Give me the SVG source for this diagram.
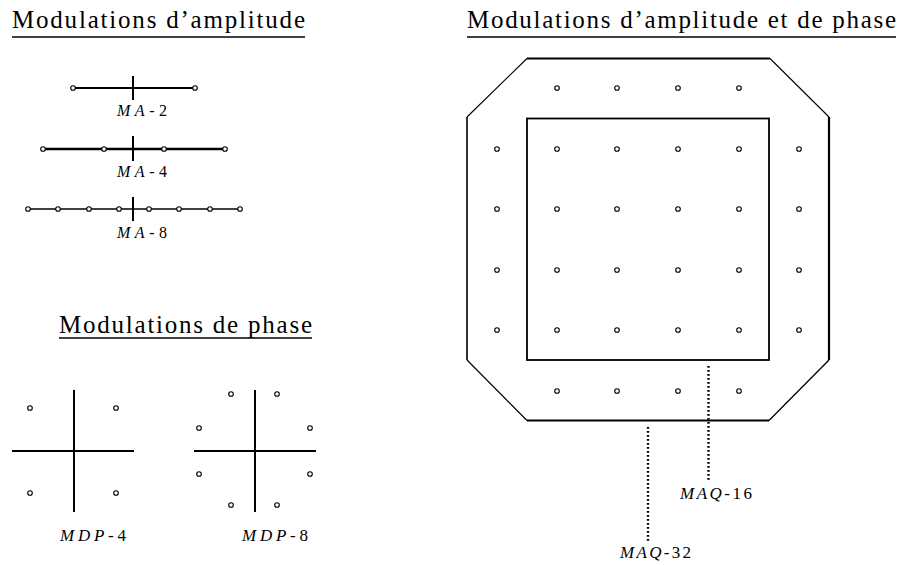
<svg xmlns="http://www.w3.org/2000/svg" width="903" height="565" viewBox="0 0 903 565">
<style>
.title{font-family:"Liberation Serif","DejaVu Serif",serif;font-size:25px;fill:#000}
.lab{font-family:"Liberation Serif","DejaVu Serif",serif;font-size:16px;fill:#000}
.lab2{font-family:"Liberation Serif","DejaVu Serif",serif;font-size:17px;fill:#000}
.it{font-style:italic}
.ul{stroke:#000;stroke-width:1.6}
.axis{stroke:#000;stroke-width:2;fill:none}
.pt{fill:#fff;stroke:#000;stroke-width:1.1}
.dot{stroke:#000;stroke-width:2.4;stroke-dasharray:1.8 2.2;fill:none}
</style>
<rect width="903" height="565" fill="#fff"/>

<g id="title-amplitude">
<text class="title" x="12" y="28" textLength="293" lengthAdjust="spacing">Modulations d’amplitude</text>
<line class="ul" x1="12" y1="37" x2="305" y2="37"/>
</g>

<g id="MA-2">
<line x1="73" y1="88" x2="195" y2="88" stroke="#000" stroke-width="1.8"/>
<line class="axis" x1="133" y1="76" x2="133" y2="100"/>
<circle class="pt" cx="73" cy="88" r="2.3"/>
<circle class="pt" cx="195" cy="88" r="2.3"/>
<text class="lab" x="117" y="116" textLength="50"><tspan class="it">MA</tspan>-2</text>
</g>

<g id="MA-4">
<line x1="43" y1="149" x2="225" y2="149" stroke="#000" stroke-width="2.4"/>
<line class="axis" x1="133" y1="136" x2="133" y2="161"/>
<circle class="pt" cx="43" cy="149" r="2.3"/>
<circle class="pt" cx="104" cy="149" r="2.3"/>
<circle class="pt" cx="164" cy="149" r="2.3"/>
<circle class="pt" cx="225" cy="149" r="2.3"/>
<text class="lab" x="117" y="177" textLength="50"><tspan class="it">MA</tspan>-4</text>
</g>

<g id="MA-8">
<line x1="28" y1="209" x2="240" y2="209" stroke="#000" stroke-width="1.6"/>
<line class="axis" x1="133" y1="197" x2="133" y2="221"/>
<circle class="pt" cx="28" cy="209" r="2.3"/>
<circle class="pt" cx="58" cy="209" r="2.3"/>
<circle class="pt" cx="89" cy="209" r="2.3"/>
<circle class="pt" cx="119" cy="209" r="2.3"/>
<circle class="pt" cx="149" cy="209" r="2.3"/>
<circle class="pt" cx="179" cy="209" r="2.3"/>
<circle class="pt" cx="210" cy="209" r="2.3"/>
<circle class="pt" cx="240" cy="209" r="2.3"/>
<text class="lab" x="117" y="238" textLength="50"><tspan class="it">MA</tspan>-8</text>
</g>

<g id="title-phase">
<text class="title" x="59" y="333" textLength="253" lengthAdjust="spacing">Modulations de phase</text>
<line class="ul" x1="59" y1="338" x2="312" y2="338"/>
</g>

<g id="MDP-4">
<line class="axis" x1="12" y1="451" x2="134" y2="451"/>
<line class="axis" x1="74" y1="390" x2="74" y2="512"/>
<circle class="pt" cx="30" cy="408" r="2.3"/>
<circle class="pt" cx="116" cy="408" r="2.3"/>
<circle class="pt" cx="30" cy="493" r="2.3"/>
<circle class="pt" cx="116" cy="493" r="2.3"/>
<text class="lab2" x="60" y="541" textLength="66"><tspan class="it">MDP</tspan>-4</text>
</g>

<g id="MDP-8">
<line class="axis" x1="194" y1="451" x2="316" y2="451"/>
<line class="axis" x1="255" y1="390" x2="255" y2="512"/>
<circle class="pt" cx="231" cy="394" r="2.3"/>
<circle class="pt" cx="277" cy="394" r="2.3"/>
<circle class="pt" cx="199" cy="428" r="2.3"/>
<circle class="pt" cx="310" cy="428" r="2.3"/>
<circle class="pt" cx="199" cy="474" r="2.3"/>
<circle class="pt" cx="310" cy="474" r="2.3"/>
<circle class="pt" cx="231" cy="505" r="2.3"/>
<circle class="pt" cx="277" cy="505" r="2.3"/>
<text class="lab2" x="242" y="541" textLength="66"><tspan class="it">MDP</tspan>-8</text>
</g>

<g id="title-amplitude-phase">
<text class="title" x="467" y="28" textLength="429" lengthAdjust="spacing">Modulations d’amplitude et de phase</text>
<line class="ul" x1="467" y1="37" x2="896" y2="37"/>
</g>

<g id="MAQ-32">
<line x1="527" y1="58.5" x2="770" y2="58.5" stroke="#000" stroke-width="1.8"/>
<line x1="527" y1="58.5" x2="467" y2="117" stroke="#000" stroke-width="1.1"/>
<line x1="770" y1="58.5" x2="829" y2="117" stroke="#000" stroke-width="1.1"/>
<line x1="467" y1="117" x2="467" y2="360" stroke="#000" stroke-width="1.6"/>
<line x1="829" y1="117" x2="829" y2="360" stroke="#000" stroke-width="2.2"/>
<line x1="467" y1="360" x2="527" y2="420.5" stroke="#000" stroke-width="1.2"/>
<line x1="829" y1="360" x2="769" y2="420.5" stroke="#000" stroke-width="1.3"/>
<line x1="527" y1="420.5" x2="769" y2="420.5" stroke="#000" stroke-width="1.8"/>
<g>
<circle class="pt" cx="557" cy="88" r="2.3"/><circle class="pt" cx="617" cy="88" r="2.3"/><circle class="pt" cx="678" cy="88" r="2.3"/><circle class="pt" cx="739" cy="88" r="2.3"/>
<circle class="pt" cx="497" cy="149" r="2.3"/><circle class="pt" cx="799" cy="149" r="2.3"/>
<circle class="pt" cx="497" cy="209" r="2.3"/><circle class="pt" cx="799" cy="209" r="2.3"/>
<circle class="pt" cx="497" cy="270" r="2.3"/><circle class="pt" cx="799" cy="270" r="2.3"/>
<circle class="pt" cx="497" cy="330" r="2.3"/><circle class="pt" cx="799" cy="330" r="2.3"/>
<circle class="pt" cx="557" cy="391" r="2.3"/><circle class="pt" cx="617" cy="391" r="2.3"/><circle class="pt" cx="678" cy="391" r="2.3"/><circle class="pt" cx="739" cy="391" r="2.3"/>
</g>
<text class="lab2" x="620" y="558" textLength="71"><tspan class="it">MAQ</tspan>-32</text>
</g>

<g id="MAQ-16">
<rect x="527" y="118.5" width="242" height="241.5" fill="none" stroke="#000" stroke-width="1.8"/>
<g>
<circle class="pt" cx="557" cy="149" r="2.3"/><circle class="pt" cx="617" cy="149" r="2.3"/><circle class="pt" cx="678" cy="149" r="2.3"/><circle class="pt" cx="739" cy="149" r="2.3"/>
<circle class="pt" cx="557" cy="209" r="2.3"/><circle class="pt" cx="617" cy="209" r="2.3"/><circle class="pt" cx="678" cy="209" r="2.3"/><circle class="pt" cx="739" cy="209" r="2.3"/>
<circle class="pt" cx="557" cy="270" r="2.3"/><circle class="pt" cx="617" cy="270" r="2.3"/><circle class="pt" cx="678" cy="270" r="2.3"/><circle class="pt" cx="739" cy="270" r="2.3"/>
<circle class="pt" cx="557" cy="330" r="2.3"/><circle class="pt" cx="617" cy="330" r="2.3"/><circle class="pt" cx="678" cy="330" r="2.3"/><circle class="pt" cx="739" cy="330" r="2.3"/>
</g>
<text class="lab2" x="680" y="499" textLength="72"><tspan class="it">MAQ</tspan>-16</text>
</g>

<g id="connectors">
<line class="dot" x1="708.5" y1="366" x2="708.5" y2="482"/>
<line class="dot" x1="648" y1="427" x2="648" y2="543"/>
</g>
</svg>
